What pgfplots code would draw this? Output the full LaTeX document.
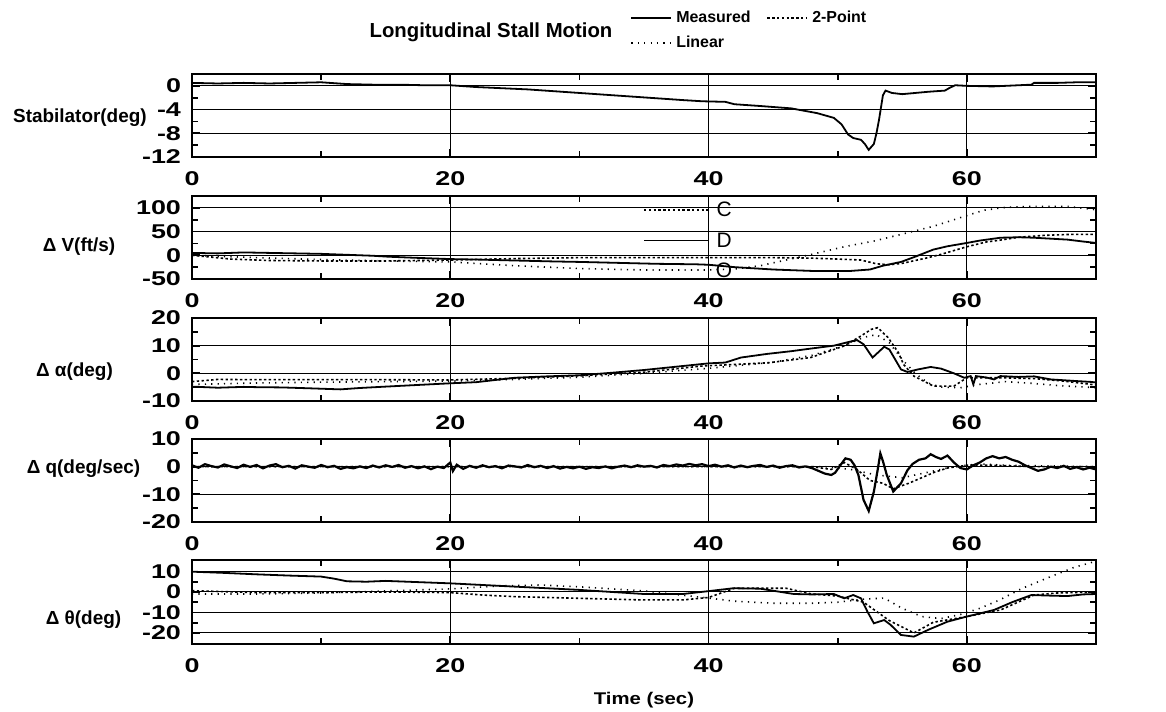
\documentclass[border=0pt]{standalone}
\usepackage{fontspec}
\setmainfont{Liberation Sans}
\newfontfamily\widefont[FakeStretch=1.35]{Liberation Sans}
\newfontfamily\timefont[FakeStretch=1.2]{Liberation Sans}
\usepackage{pgfplots}
\pgfplotsset{compat=1.18}

\newcommand\tickfont{\widefont\bfseries\fontsize{10}{11}\selectfont}
\newcommand\labfont{\bfseries\fontsize{9.5}{11}\selectfont}
\newcommand\legfont{\bfseries\fontsize{8}{9.5}\selectfont}

\tikzset{
  meas/.style={black, line width=0.9bp, solid},
  twopt/.style={black, line width=0.8bp, dash pattern=on 1.2bp off 1.2bp},
  lin/.style={black, line width=0.8bp, dash pattern=on 0.6bp off 2.6bp},
}

\pgfplotsset{
  panel/.style={
    scale only axis, width=452bp, height=41.5bp,
    anchor=south west,
    xmin=0, xmax=70, xtick={0,20,40,60}, minor x tick num=1,
    minor y tick num=1,
    grid=major, major grid style={black, line width=0.5bp},
    axis line style={line width=1.2bp},
    tick style={black, line width=0.9bp},
    major tick length=4bp, minor tick length=3bp,
    tick align=inside,
    xticklabel style={font=\tickfont, yshift=-4bp},
    yticklabel style={font=\tickfont, xshift=-2bp},
    /pgf/number format/assume math mode=true,
    every axis y label/.style={font=\labfont, anchor=center},
  }
}

\begin{document}
\begin{tikzpicture}
\path[use as bounding box] (0,0) rectangle (583bp,356bp);

\node[font=\bfseries\fontsize{10.2}{12}\selectfont] at (245.5bp,340bp) {Longitudinal Stall Motion};

% Stabilator
\begin{axis}[panel, at={(96bp,277.5bp)}, ymin=-12, ymax=2, ytick={-12,-8,-4,0},
  ylabel={Stabilator(deg)}, every axis y label/.append style={at={(axis description cs:-0.124,0.47)}},
  legend columns=2, legend cell align=left,
  legend style={draw=none, fill=none, font=\legfont, at={(axis description cs:0.478,1.86)}, anchor=north west,
    /tikz/every even column/.append style={column sep=6bp}, row sep=1bp},
  legend image code/.code={\draw[#1] (0bp,0bp) -- (20bp,0bp);}]
\addplot[meas] coordinates {(0,0.5)(2,0.4)(4,0.5)(6,0.4)(8,0.5)(10,0.6)(12,0.3)(14,0.2)(16,0.2)(18,0.1)(20,0.1)(22,-0.2)(24,-0.4)(26,-0.6)(28,-0.9)(30,-1.2)(32,-1.5)(34,-1.8)(36,-2.1)(38,-2.4)(39.5,-2.6)(41.3,-2.7)(42,-3.1)(44,-3.4)(46.4,-3.8)(48.4,-4.6)(49.7,-5.4)(50.3,-6.5)(50.8,-8.2)(51.2,-8.8)(51.8,-9.1)(52.1,-9.8)(52.4,-10.8)(52.8,-9.8)(53.0,-8)(53.2,-5.7)(53.5,-1.6)(53.7,-0.8)(54.2,-1.2)(55,-1.4)(56,-1.2)(57,-1.0)(58.3,-0.8)(58.7,-0.3)(59.1,0.1)(60,0)(62,-0.1)(64,0.1)(65,0.2)(65.2,0.5)(67,0.5)(68.5,0.6)(70,0.6)};
\addlegendentry{Measured}
\addlegendimage{twopt}
\addlegendentry{2-Point}
\addlegendimage{lin}
\addlegendentry{Linear}
\end{axis}

% Delta V
\begin{axis}[panel, at={(96bp,216.5bp)}, ymin=-50, ymax=125, ytick={-50,0,50,100},
  ylabel={Δ V(ft/s)}, every axis y label/.append style={at={(axis description cs:-0.125,0.386)}}]
\addplot[meas] coordinates {(0,5)(2,4)(4,6)(6,5)(8,4)(10,3)(12,1)(14,-1)(15.2,-3)(17,-5)(20,-8)(22,-9)(25,-11)(28,-13)(30,-14)(33,-16)(36,-18)(39,-19)(40,-20)(42,-25)(45,-30)(48,-33)(51,-33)(52.5,-30)(53.5,-22)(54.9,-14)(56,-3)(57.4,12)(58.5,19)(60,26)(61,31)(62.6,37)(64,38)(65.2,37)(66.5,35)(67.8,33)(69,29)(70,26)};
\addplot[twopt] coordinates {(0,0)(3,-8)(6,-11)(10,-12)(15,-12)(20,-10)(25,-7)(30,-5)(35,-5)(40,-5)(45,-5)(48,-6)(50,-8)(51.8,-10)(53,-18)(54,-20)(55,-17)(56,-11)(57,-5)(58,2)(59,10)(60,18)(61.5,28)(62.6,32)(64,38)(66,42)(68,44)(70,44)};
\addplot[lin] coordinates {(0,0)(5,-5)(10,-9)(15,-12)(20,-14)(25,-22)(30,-28)(35,-31)(40,-31)(42,-29)(44,-22)(46,-10)(48,2)(50.5,18)(52.8,30)(54.9,44)(57.4,61)(59.8,82)(61.3,95)(63,101)(65,103)(67.8,103)(70,96)};
\addplot[twopt, line width=1.2bp] coordinates {(35,96)(40,96)};
\addplot[meas] coordinates {(35,31)(40,31)};
\node[font=\fontsize{10.5}{11}\selectfont] at (axis cs:41.2,98) {C};
\node[font=\fontsize{10.5}{11}\selectfont] at (axis cs:41.2,32) {D};
\node[font=\fontsize{10.5}{11}\selectfont] at (axis cs:41.2,-31) {O};
\end{axis}

% Delta alpha
\begin{axis}[panel, at={(96bp,155.5bp)}, ymin=-10, ymax=20, ytick={-10,0,10,20},
  ylabel={Δ α(deg)}, every axis y label/.append style={at={(axis description cs:-0.13,0.35)}}]
\addplot[meas] coordinates {(0,-4.8)(2,-5.2)(4,-4.9)(5,-5)(7,-5.1)(9,-5.4)(11.5,-5.8)(13,-5.3)(15,-4.8)(17.5,-4.2)(20,-3.6)(22,-3.2)(25,-1.6)(27.5,-1.1)(30,-0.7)(32.5,0.2)(35,1.2)(37.5,2.4)(40,3.6)(41.3,3.9)(42.5,5.7)(44.5,7)(46.4,8)(48,9)(49.7,10)(51,11.5)(51.5,12)(52,10.5)(52.7,5.7)(53.6,9.6)(54,8.6)(54.9,1.4)(55.4,0.5)(56.2,1.4)(57.2,2.3)(58,1.7)(59,0)(59.8,-1.6)(60.3,-1)(60.5,-4)(60.7,-1)(61.5,-1.5)(62.1,-2.2)(62.6,-1)(64,-1.3)(65.2,-1.1)(66.5,-2.2)(67.5,-2.5)(68.5,-2.8)(69.6,-3.1)(70,-3.3)};
\addplot[twopt] coordinates {(0,-3)(2,-2.2)(5,-2.3)(10,-2.3)(15,-2.3)(20,-2.4)(25,-1.8)(30,-0.9)(35,0.4)(39.4,2.6)(42,3.2)(44.6,3.8)(47.9,5.7)(50.5,9.9)(51.8,13.5)(52.6,15.9)(53.1,16.5)(53.9,12.9)(54.7,7.5)(55.1,3.2)(55.9,-1)(57.4,-4.6)(59,-4.6)(60,-1.6)(62.6,-1.6)(65.2,-1.9)(67.5,-2.8)(69.6,-4)(70,-4.2)};
\addplot[lin] coordinates {(0,-4)(5,-3.5)(10,-3.2)(15,-3)(20,-2.8)(25,-2.2)(30,-1.4)(35,0)(40,1.8)(45,4)(48,6.5)(50.5,10)(52,13)(53,14)(54,11)(55,5)(56,0)(57,-3.5)(58,-5)(59.5,-5.2)(61,-4)(63,-3)(65,-3.6)(67,-4.4)(70,-5.2)};
\end{axis}

% Delta q
\begin{axis}[panel, at={(96bp,95bp)}, ymin=-20, ymax=10, ytick={-20,-10,0,10},
  ylabel={Δ q(deg/sec)}, every axis y label/.append style={at={(axis description cs:-0.12,0.64)}}]
\addplot[meas, line width=1.1bp] coordinates {(0,0.5)(0.5,-0.4)(1,0.9)(1.5,0.2)(2,-0.3)(2.5,0.8)(3,0.1)(3.5,-0.5)(4,0.7)(4.5,-0.1)(5,0.6)(5.5,-0.6)(6,0.4)(6.5,0.9)(7,-0.2)(7.5,0.3)(8,-0.7)(8.5,0.5)(9,0.0)(9.5,-0.4)(10,0.6)(10.5,-0.2)(11,0.3)(11.5,-0.8)(12,-0.2)(12.5,-0.6)(13,0.1)(13.5,-0.5)(14,0.4)(14.5,-0.3)(15,0.5)(15.5,-0.1)(16,0.6)(16.5,-0.4)(17,0.2)(17.5,-0.6)(18,0.1)(18.5,-0.9)(19,0.0)(19.5,-0.5)(20,1.5)(20.2,-1.6)(20.5,0.7)(21,-0.8)(21.5,0.3)(22,-0.4)(22.5,0.5)(23,-0.2)(23.5,0.2)(24,-0.6)(24.5,0.4)(25,0.1)(25.5,-0.3)(26,0.6)(26.5,-0.2)(27,0.3)(27.5,-0.5)(28,0.2)(28.5,-0.7)(29,-0.1)(29.5,-0.6)(30,0.0)(30.5,-0.8)(31,-0.2)(31.5,-0.5)(32,0.1)(32.5,-0.6)(33,0.0)(33.5,0.4)(34,-0.2)(34.5,0.5)(35,0.0)(35.5,0.3)(36,-0.3)(36.5,0.6)(37,0.2)(37.5,0.8)(38,0.4)(38.5,1.0)(39,0.5)(39.5,0.9)(40,0.2)(40.5,0.7)(41,0.0)(41.5,0.5)(42,-0.3)(42.5,0.4)(43,-0.2)(43.5,0.3)(44,0.6)(44.5,-0.1)(45,0.4)(45.5,-0.4)(46,0.2)(46.5,0.5)(47,-0.3)(47.5,0.1)(48,-0.5)(48.5,-1.5)(49,-2.5)(49.5,-3)(49.8,-2.2)(50.2,0.5)(50.6,3)(51,2.5)(51.3,0.5)(51.6,-3)(52,-12)(52.4,-16)(52.8,-9)(53.1,-1)(53.3,4.8)(53.5,2)(53.8,-3)(54.3,-9)(54.6,-7.5)(54.9,-6)(55.4,-1.3)(55.8,1)(56.3,2.5)(56.8,3)(57.2,4.5)(57.6,3.5)(58,2.8)(58.5,4)(59,1.5)(59.5,-0.5)(60,-1)(60.5,0.5)(61,1.5)(61.5,3)(62,3.8)(62.5,3)(63,3.5)(63.5,2.5)(64,1.8)(64.5,0.5)(65,-0.5)(65.5,-1.5)(66,-1)(66.5,0)(67,-0.5)(67.5,0.3)(68,-0.8)(68.5,-0.2)(69,-1)(69.5,-0.4)(70,-1)};
\addplot[twopt] coordinates {(0,0)(48,0)(49.5,-1)(50.5,1.5)(51.5,-1)(52.5,-5)(53.5,-6)(54.3,-8)(55.5,-6)(56.5,-4)(57.5,-2)(58.5,-0.5)(60,0.5)(62,0.5)(65,0)(70,0)};
\addplot[lin] coordinates {(0,0)(49,0)(51,-1)(53,-3)(55,-4)(57,-2)(59,0)(61,1)(63,0.5)(70,0)};
\end{axis}

% Delta theta
\begin{axis}[panel, at={(96bp,34bp)}, height=42bp, ymin=-25.4, ymax=15.6, ytick={-20,-10,0,10},
  ylabel={Δ θ(deg)}, every axis y label/.append style={at={(axis description cs:-0.12,0.29)}},
  xlabel={Time (sec)}, every axis x label/.style={at={(axis description cs:0.5,-0.667)}, anchor=center,
    font=\timefont\bfseries\fontsize{8.5}{9.5}\selectfont}]
\addplot[meas] coordinates {(0,9.9)(2.5,9.3)(5,8.6)(7.5,8)(10,7.5)(11,6.5)(12,5.2)(13.5,5)(15,5.4)(17.5,4.8)(20,4.2)(22.5,3.4)(25,2.6)(27.5,1.8)(30,1)(32.5,0)(35,-1)(38,-1)(40,0.4)(41.9,1.8)(44,1.6)(46.6,-1)(48,-1.2)(49.7,-1)(50.5,-3.1)(51.2,-1.5)(51.8,-3.1)(52.3,-9.6)(52.8,-15.3)(53.6,-13.7)(54.1,-16.1)(54.9,-21)(55.9,-21.8)(57,-18.5)(58.5,-14.5)(60,-12)(62.1,-8.8)(63.5,-5)(65,-1.5)(66.5,-1.8)(67.8,-2)(69,-1.2)(70,-1)};
\addplot[twopt] coordinates {(0,0.6)(5,-0.3)(10,-0.3)(15,0)(20,-0.3)(22.5,-1.5)(25,-2.3)(30,-3.1)(35,-3.9)(38,-3.9)(40,-2.7)(42,1.8)(46,1.8)(48,-1)(50,-2)(52,-5)(54,-14)(55.9,-20)(57.4,-14.8)(60,-12)(62.6,-8.8)(65.2,-1.5)(67,-0.5)(70,0)};
\addplot[lin] coordinates {(0,-1)(5,-1)(10,-0.5)(15,0.5)(20,1.5)(24,3)(27,3.4)(30,2.5)(35,0.5)(40,-3)(42,-4.5)(45,-5.5)(48,-5.5)(50,-5)(52,-3.5)(53.6,-3)(55,-8)(56.5,-12)(58,-13)(59.5,-11)(61,-8)(62.5,-4)(64.3,1.8)(66.5,7.5)(68.3,12)(70,15)};
\end{axis}
\end{tikzpicture}
\end{document}
